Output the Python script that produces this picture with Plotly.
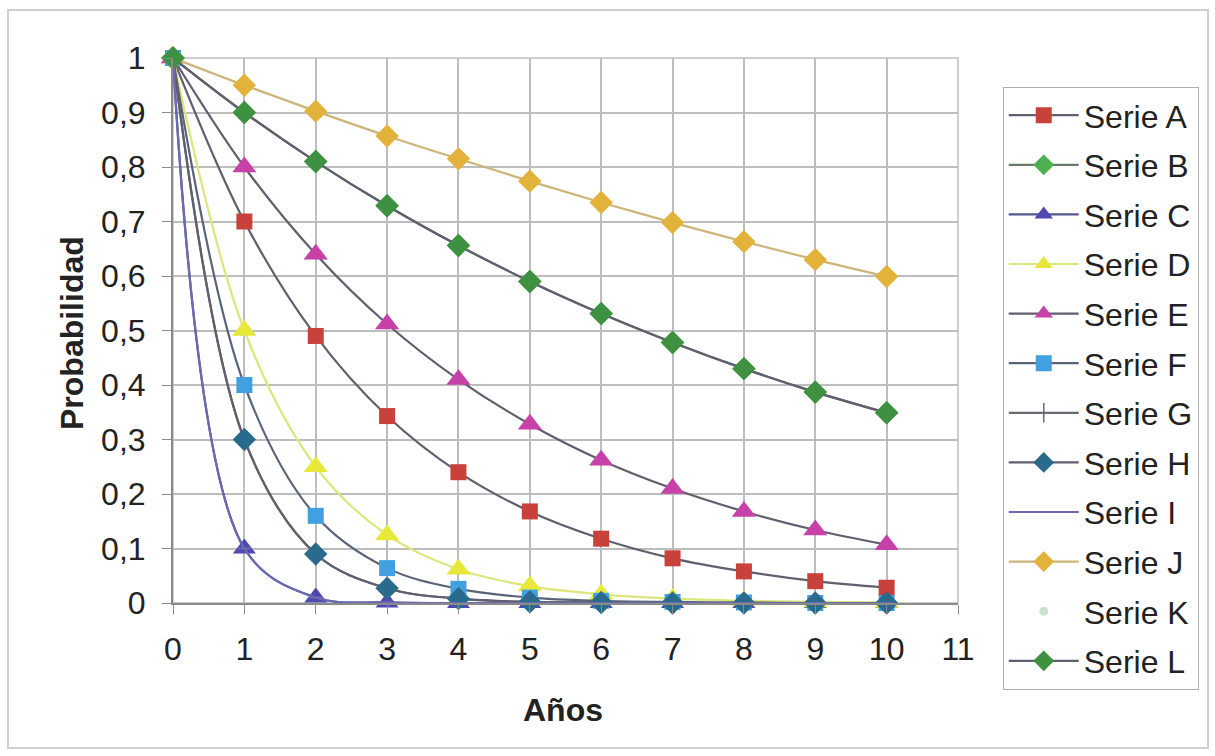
import plotly.graph_objects as go

years = [0, 1, 2, 3, 4, 5, 6, 7, 8, 9, 10]

serie_a = [1, 0.70, 0.49, 0.343, 0.240, 0.168, 0.118, 0.082, 0.058, 0.040, 0.028]
serie_b = [1, 0.90, 0.81, 0.729, 0.656, 0.590, 0.531, 0.478, 0.430, 0.387, 0.349]
serie_c = [1, 0.10, 0.01, 0.001, 0, 0, 0, 0, 0, 0, 0]
serie_d = [1, 0.50, 0.25, 0.125, 0.062, 0.031, 0.016, 0.008, 0.004, 0.002, 0.001]
serie_e = [1, 0.80, 0.64, 0.512, 0.410, 0.328, 0.262, 0.210, 0.168, 0.134, 0.107]
serie_f = [1, 0.40, 0.16, 0.064, 0.026, 0.010, 0.004, 0.002, 0.001, 0, 0]
serie_g = [1, 0.30, 0.09, 0.027, 0.008, 0.002, 0.001, 0, 0, 0, 0]
serie_h = [1, 0.30, 0.09, 0.027, 0.008, 0.002, 0.001, 0, 0, 0, 0]
serie_i = [1, 0.10, 0.01, 0.001, 0, 0, 0, 0, 0, 0, 0]
serie_j = [1, 0.95, 0.9025, 0.857, 0.815, 0.774, 0.735, 0.698, 0.663, 0.630, 0.599]
serie_k = [1, 0.90, 0.81, 0.729, 0.656, 0.590, 0.531, 0.478, 0.430, 0.387, 0.349]
serie_l = [1, 0.90, 0.81, 0.729, 0.656, 0.590, 0.531, 0.478, 0.430, 0.387, 0.349]

y_ticks = [0, 0.1, 0.2, 0.3, 0.4, 0.5, 0.6, 0.7, 0.8, 0.9, 1]
x_ticks = [0, 1, 2, 3, 4, 5, 6, 7, 8, 9, 10, 11]

FONT = "Arial, Liberation Sans, sans-serif"
FS = 32

series = [
    ("Serie A", serie_a, "#5f5f6e", dict(symbol="square", color="#c8413a", size=16), "lines+markers"),
    ("Serie B", serie_b, "#6a7a6a", dict(symbol="diamond", color="#4caf50", size=18), "lines+markers"),
    ("Serie C", serie_c, "#55558a", dict(symbol="triangle-up", color="#5048b0", size=20), "lines+markers"),
    ("Serie D", serie_d, "#dde67a", dict(symbol="triangle-up", color="#e8e83a", size=21), "lines+markers"),
    ("Serie E", serie_e, "#5f5f6e", dict(symbol="triangle-up", color="#c841a8", size=21), "lines+markers"),
    ("Serie F", serie_f, "#5a6478", dict(symbol="square", color="#42a0e0", size=16), "lines+markers"),
    ("Serie G", serie_g, "#6a6a72", dict(symbol="line-ns", color="#6a6a72", size=14, line=dict(width=1.5, color="#6a6a72")), "lines+markers"),
    ("Serie H", serie_h, "#5f5f6e", dict(symbol="diamond", color="#2a6a8c", size=18), "lines+markers"),
    ("Serie I", serie_i, "#6a6ab0", dict(symbol="line-ew", color="#6a6ab0", size=10, line=dict(width=2, color="#6a6ab0")), "lines+markers"),
    ("Serie J", serie_j, "#cdb57a", dict(symbol="diamond", color="#e2b23a", size=18), "lines+markers"),
    ("Serie K", serie_k, "#c8e0c8", dict(symbol="circle", color="#c8e4cc", size=9), "markers"),
    ("Serie L", serie_l, "#5f5f6e", dict(symbol="diamond", color="#3d9140", size=18), "lines+markers"),
]

fig = go.Figure()
for name, vals, lcolor, marker, mode in series:
    fig.add_trace(go.Scatter(
        x=years, y=vals, name=name, mode=mode,
        line=dict(color=lcolor, width=2.2, shape="spline", smoothing=1.0),
        marker=marker, legendgroup=name, cliponaxis=False,
    ))

fig.update_layout(
    width=1215, height=756,
    margin=dict(l=173, r=257, t=58, b=153),
    paper_bgcolor="white", plot_bgcolor="white",
    separators=",.",
    font=dict(family=FONT, size=FS, color="#222222"),
    showlegend=True,
    legend=dict(
        x=1.057, y=0.947, xanchor="left", yanchor="top",
        bordercolor="#b0b0b0", borderwidth=1,
        font=dict(family=FONT, size=FS, color="#222222"),
        tracegroupgap=5, itemwidth=70,
        bgcolor="white", maxheight=720,
    ),
    xaxis=dict(
        range=[0, 11], tickvals=x_ticks, ticktext=[str(v) for v in x_ticks],
        showgrid=True, gridcolor="#bdbdbd", gridwidth=1.5,
        zeroline=False, showline=True, linecolor="#8a8a8a", linewidth=2,
        ticks="outside", ticklen=9, tickcolor="#8a8a8a",
        tickfont=dict(size=FS), fixedrange=True, ticklabelstandoff=8,
    ),
    yaxis=dict(
        range=[0, 1], tickvals=y_ticks,
        showgrid=True, gridcolor="#bdbdbd", gridwidth=1.5,
        zeroline=False, showline=True, linecolor="#8a8a8a", linewidth=2,
        ticks="outside", ticklen=9, tickcolor="#8a8a8a",
        tickfont=dict(size=FS), fixedrange=True, ticklabelstandoff=10,
    ),
    shapes=[
        dict(type="rect", xref="paper", yref="paper", x0=0, y0=0, x1=1, y1=1,
             line=dict(color="#c0c0c0", width=1.5), layer="below"),
        dict(type="rect", xref="paper", yref="paper",
             x0=-165 / 785, y0=(603 - 748) / 545, x1=(1208 - 173) / 785, y1=(603 - 10) / 545,
             line=dict(color="#cfcfcf", width=2)),
    ],
    annotations=[
        dict(text="<b>Probabilidad</b>", xref="paper", yref="paper",
             x=(72 - 173) / 785, y=(603 - 333) / 545, textangle=-90,
             showarrow=False, font=dict(size=FS, family=FONT, color="#222222"),
             xanchor="center", yanchor="middle"),
        dict(text="<b>Años</b>", xref="paper", yref="paper",
             x=(563 - 173) / 785, y=(603 - 710) / 545,
             showarrow=False, font=dict(size=FS, family=FONT, color="#222222"),
             xanchor="center", yanchor="middle"),
    ],
)

fig.write_html("out.html")
